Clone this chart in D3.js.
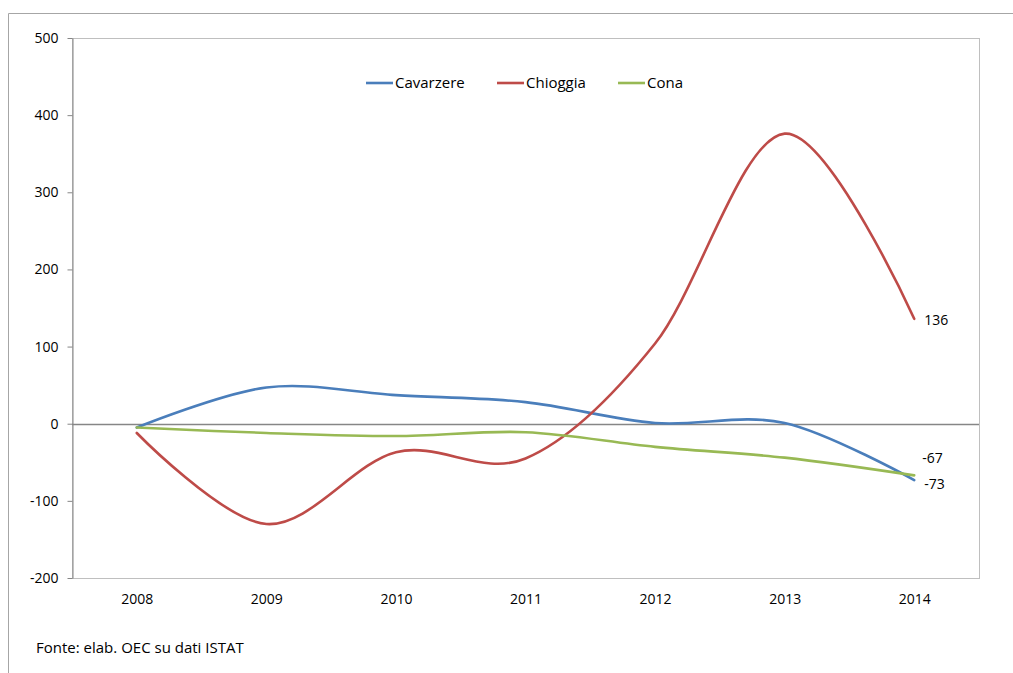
<!DOCTYPE html>
<html>
<head>
<meta charset="utf-8">
<script src="https://cdn.jsdelivr.net/npm/d3@7"></script>
<style>
  html, body { margin: 0; padding: 0; background: #fff; }
  svg { display: block; font-family: "Open Sans", "Noto Sans", sans-serif; }
</style>
</head>
<body>
<svg id="chart" width="1013" height="673"></svg>
<script>
// Years on the horizontal axis
const years = ["2008", "2009", "2010", "2011", "2012", "2013", "2014"];

// Yearly values per municipality
const cavarzere = [-5, 47, 37, 28, 1, 1, -73];
const chioggia  = [-12, -130, -37, -45, 104, 376, 136];
const cona      = [-5, -12, -16, -11, -30, -44, -67];

const seriesNames  = ["Cavarzere", "Chioggia", "Cona"];
const seriesColors = ["#4A7EBB", "#BE4B48", "#98B954"];
const yTicks = [-200, -100, 0, 100, 200, 300, 400, 500];

const series = [cavarzere, chioggia, cona].map((values, i) => ({
  name: seriesNames[i], color: seriesColors[i], values
}));

const svg = d3.select("#chart");
const plot = { left: 72, right: 979, top: 38, bottom: 578 };

const x = d3.scalePoint().domain(years).range([plot.left, plot.right]).padding(0.5);
const y = d3.scaleLinear().domain([-200, 500]).range([plot.bottom, plot.top]);

// Outer frame (top and left edges)
svg.append("path")
  .attr("d", `M8.5,673 V13.5 H1013`)
  .attr("fill", "none").attr("stroke", "#a6a6a6").attr("stroke-width", 1);

// Plot area border
svg.append("rect")
  .attr("x", plot.left + 0.5).attr("y", plot.top + 0.5)
  .attr("width", plot.right - plot.left).attr("height", plot.bottom - plot.top)
  .attr("fill", "none").attr("stroke", "#bfbfbf").attr("stroke-width", 1);

// Y axis
const yAxis = svg.append("g")
  .attr("transform", `translate(${plot.left + 0.5},0)`)
  .call(d3.axisLeft(y).tickValues(yTicks).tickFormat(d => String(d))
    .tickSize(5).tickPadding(9).tickSizeOuter(0));
yAxis.select(".domain").attr("stroke", "#868686");
yAxis.selectAll(".tick line").attr("stroke", "#868686");
yAxis.selectAll(".tick text").attr("font-size", 14).attr("fill", "#000")
  .attr("font-family", "'Open Sans', sans-serif");

// Zero line
svg.append("line")
  .attr("x1", plot.left).attr("x2", plot.right)
  .attr("y1", Math.round(y(0)) + 0.5).attr("y2", Math.round(y(0)) + 0.5)
  .attr("stroke", "#868686").attr("stroke-width", 1.5);

// X axis labels
const xAxis = svg.append("g")
  .attr("transform", `translate(0,${plot.bottom})`)
  .call(d3.axisBottom(x).tickSize(0).tickPadding(16));
xAxis.select(".domain").remove();
xAxis.selectAll(".tick text").attr("font-size", 14).attr("fill", "#000")
  .attr("font-family", "'Open Sans', sans-serif");

// Smoothed lines
const line = d3.line()
  .x((d, i) => x(years[i]))
  .y(d => y(d))
  .curve(d3.curveCatmullRom.alpha(0));

svg.append("g").selectAll("path")
  .data(series)
  .join("path")
  .attr("d", d => line(d.values))
  .attr("fill", "none")
  .attr("stroke", d => d.color)
  .attr("stroke-width", 2.6)
  .attr("stroke-linecap", "round");

// End labels
const last = years.length - 1;
const endLabels = [
  { v: chioggia[last], dx: 10, dy: 6 },
  { v: cona[last], dx: 8, dy: -12 },
  { v: cavarzere[last], dx: 10, dy: 9 }
];
svg.append("g").selectAll("text")
  .data(endLabels)
  .join("text")
  .attr("x", d => x(years[last]) + d.dx)
  .attr("y", d => y(d.v) + d.dy)
  .attr("font-size", 14)
  .attr("fill", "#000")
  .text(d => String(d.v));

// Legend
const legendX = [366, 497, 618];
const legend = svg.append("g").selectAll("g")
  .data(series)
  .join("g")
  .attr("transform", (d, i) => `translate(${legendX[i]},83)`);
legend.append("line")
  .attr("x1", 0).attr("x2", 27).attr("y1", 0).attr("y2", 0)
  .attr("stroke", d => d.color).attr("stroke-width", 2.6);
legend.append("text")
  .attr("x", 29).attr("y", 5)
  .attr("font-size", 15)
  .attr("fill", "#000")
  .text(d => d.name);

// Source note
svg.append("text")
  .attr("x", 36).attr("y", 653)
  .attr("font-size", 15)
  .attr("fill", "#000")
  .text("Fonte: elab. OEC su dati ISTAT");
</script>
</body>
</html>
